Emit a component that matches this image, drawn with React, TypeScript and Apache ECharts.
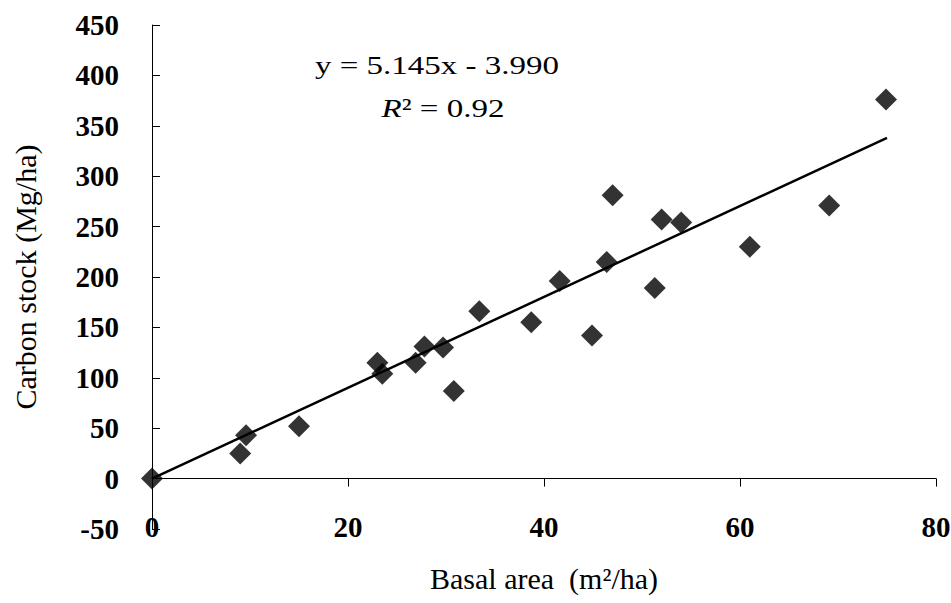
import React, { useEffect, useRef } from "react";
import * as echarts from "echarts";

const basalArea = [0, 9.0, 9.6, 15.0, 23.0, 23.5, 26.9, 27.8, 29.7, 30.8, 33.4, 38.7, 41.6, 44.9, 46.4, 47.0, 51.3, 52.0, 54.0, 61.0, 69.1, 74.9];
const carbonStock = [0, 25, 43, 52, 115, 104, 115, 131, 130, 87, 166, 155, 196, 142, 215, 281, 189, 257, 254, 230, 271, 376];
const trendX = [0, 75];
const trendY = [0, 338];
const equationText = "y = 5.145x - 3.990";
const r2Text = "{i|R}{n|² = 0.92}";
const xAxisTitle = "Basal area  (m²/ha)";
const yAxisTitle = "Carbon stock (Mg/ha)";

const SERIF = "Liberation Serif";

export default function App() {
  const ref = useRef<HTMLDivElement>(null);
  useEffect(() => {
    if (!ref.current) return;
    const chart = echarts.init(ref.current, undefined, { renderer: "svg" });
    const points = basalArea.map((x, i) => [x, carbonStock[i]]);
    const trend = trendX.map((x, i) => [x, trendY[i]]);
    chart.setOption({
      animation: false,
      backgroundColor: "#fff",
      textStyle: { fontFamily: SERIF },
      grid: { left: 152, right: 15, top: 25, bottom: 74, containLabel: false, outerBoundsMode: "none" },
      xAxis: {
        type: "value",
        min: 0,
        max: 80,
        interval: 20,
        axisLine: { show: true, onZero: true, lineStyle: { color: "#000", width: 1 } },
        axisTick: { show: true, inside: false, length: 8, lineStyle: { color: "#000" } },
        axisLabel: {
          margin: -2,
          verticalAlign: "middle",
          fontFamily: SERIF,
          fontWeight: "bold",
          fontSize: 29,
          color: "#000",
        },
        splitLine: { show: false },
        name: xAxisTitle,
        nameLocation: "middle",
        nameGap: 49,
        nameTextStyle: { fontFamily: SERIF, fontSize: 30, color: "#000", verticalAlign: "middle" },
      },
      yAxis: {
        type: "value",
        min: -50,
        max: 450,
        interval: 50,
        axisLine: { show: true, lineStyle: { color: "#000", width: 1 } },
        axisTick: { show: true, inside: true, length: 8, lineStyle: { color: "#000" } },
        axisLabel: {
          margin: 33,
          fontFamily: SERIF,
          fontWeight: "bold",
          fontSize: 29,
          color: "#000",
        },
        splitLine: { show: false },
        name: yAxisTitle,
        nameLocation: "middle",
        nameGap: 112,
        nameTextStyle: { fontFamily: SERIF, fontSize: 30, color: "#000" },
      },
      series: [
        {
          type: "line",
          data: trend,
          showSymbol: false,
          symbol: "none",
          lineStyle: { color: "#000", width: 2.5 },
          z: 2,
        },
        {
          type: "scatter",
          data: points,
          symbol: "diamond",
          symbolSize: 22,
          itemStyle: { color: "#000" },
          z: 3,
        },
      ],
      graphic: [
        {
          type: "text",
          x: 437,
          y: 65,
          scaleX: 1.27,
          style: {
            text: equationText,
            font: `26px ${SERIF}`,
            fill: "#000",
            align: "center",
            verticalAlign: "middle",
            textAlign: "center",
            textVerticalAlign: "middle",
          },
        },
        {
          type: "text",
          x: 443,
          y: 108,
          scaleX: 1.27,
          style: {
            text: r2Text,
            fill: "#000",
            align: "center",
            verticalAlign: "middle",
            textAlign: "center",
            textVerticalAlign: "middle",
            rich: {
              i: { fontFamily: SERIF, fontSize: 26, fontStyle: "italic", fill: "#000" },
              n: { fontFamily: SERIF, fontSize: 26, fill: "#000" },
            },
          },
        },
      ],
    });
    return () => chart.dispose();
  }, []);
  return <div ref={ref} style={{ position: "fixed", left: 0, top: 0, width: 951, height: 603 }} />;
}
